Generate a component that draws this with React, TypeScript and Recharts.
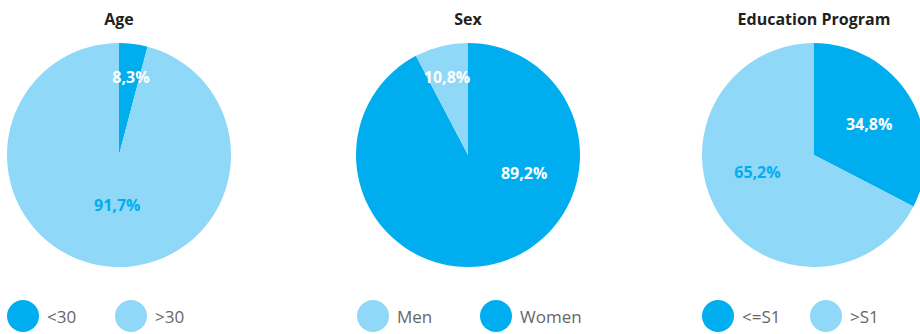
import React from 'react';
import { PieChart, Pie, Cell } from 'recharts';

const DARK = '#00AEEF';
const LIGHT = '#8FD8F7';

// Age
const ageCategories = ['<30', '>30'];
const ageValues = [4.1, 95.9];
const ageLabels = ['8,3%', '91,7%'];
// Sex
const sexCategories = ['Women', 'Men'];
const sexValues = [92.3, 7.7];
const sexLabels = ['89,2%', '10,8%'];
// Education Program
const eduCategories = ['<=S1', '>S1'];
const eduValues = [32.6, 67.4];
const eduLabels = ['34,8%', '65,2%'];

const titles = ['Age', 'Sex', 'Education Program'];

type PieCfg = {
  title: string;
  data: { name: string; value: number; label: string }[];
  colors: string[];
  labelColors: string[];
  labelPos: { a: number; r: number }[]; // a: degrees clockwise from top
  cx: number;
  legendOrder: number[];
  legendX: number[];
};

const build = (cats: string[], vals: number[], labels: string[]) =>
  cats.map((c, i) => ({ name: c, value: vals[i], label: labels[i] }));

const pies: PieCfg[] = [
  {
    title: titles[0],
    data: build(ageCategories, ageValues, ageLabels),
    colors: [DARK, LIGHT],
    labelColors: ['#FFFFFF', DARK],
    labelPos: [{ a: 8.7, r: 79 }, { a: 182, r: 50 }],
    cx: 119,
    legendOrder: [0, 1],
    legendX: [23, 131],
  },
  {
    title: titles[1],
    data: build(sexCategories, sexValues, sexLabels),
    colors: [DARK, LIGHT],
    labelColors: ['#FFFFFF', '#FFFFFF'],
    labelPos: [{ a: 107.8, r: 59 }, { a: -15, r: 81 }],
    cx: 468,
    legendOrder: [1, 0],
    legendX: [373, 496],
  },
  {
    title: titles[2],
    data: build(eduCategories, eduValues, eduLabels),
    colors: [DARK, LIGHT],
    labelColors: ['#FFFFFF', DARK],
    labelPos: [{ a: 61, r: 63 }, { a: 253.4, r: 59 }],
    cx: 814,
    legendOrder: [0, 1],
    legendX: [718, 826],
  },
];

const makeLabel = (cfg: PieCfg) => (props: any) => {
  const { cx, cy, index } = props;
  const p = cfg.labelPos[index];
  const rad = (p.a * Math.PI) / 180;
  const x = cx + p.r * Math.sin(rad);
  const y = cy - p.r * Math.cos(rad);
  return (
    <text
      x={x}
      y={y}
      textAnchor="middle"
      dominantBaseline="central"
      fill={cfg.labelColors[index]}
      fontFamily="'Open Sans', sans-serif"
      fontWeight={700}
      fontSize={16}
    >
      {cfg.data[index].label}
    </text>
  );
};

export default function App() {
  return (
    <div
      style={{
        position: 'absolute',
        left: 0,
        top: 0,
        width: 920,
        height: 334,
        overflow: 'hidden',
        background: '#fff',
        fontFamily: "'Open Sans', sans-serif",
      }}
    >
      <PieChart
        width={920}
        height={334}
        margin={{ top: 0, right: 0, bottom: 0, left: 0 }}
        style={{ position: 'absolute', left: 0, top: 0 }}
      >
        {pies.map((cfg, pi) => (
          <Pie
            key={pi}
            data={cfg.data}
            dataKey="value"
            nameKey="name"
            cx={cfg.cx}
            cy={155}
            outerRadius={112}
            startAngle={90}
            endAngle={-270}
            stroke="none"
            label={makeLabel(cfg)}
            labelLine={false}
            isAnimationActive={false}
          >
            {cfg.data.map((d, i) => (
              <Cell key={i} fill={cfg.colors[i]} />
            ))}
          </Pie>
        ))}
      </PieChart>
      {pies.map((cfg, pi) => (
        <div
          key={'t' + pi}
          style={{
            position: 'absolute',
            left: cfg.cx - 150,
            width: 300,
            top: 8,
            textAlign: 'center',
            fontWeight: 700,
            fontSize: 16,
            lineHeight: '22px',
            color: '#231F20',
          }}
        >
          {cfg.title}
        </div>
      ))}
      {pies.map((cfg, pi) =>
        cfg.legendOrder.map((idx, k) => (
          <div
            key={'l' + pi + '-' + k}
            style={{
              position: 'absolute',
              left: cfg.legendX[k] - 16,
              top: 300,
              height: 32,
              display: 'flex',
              alignItems: 'center',
              whiteSpace: 'nowrap',
            }}
          >
            <div
              style={{
                width: 32,
                height: 32,
                borderRadius: 16,
                background: cfg.colors[idx],
              }}
            />
            <span style={{ marginLeft: 8, fontSize: 17, color: '#666666' }}>
              {cfg.data[idx].name}
            </span>
          </div>
        ))
      )}
    </div>
  );
}
